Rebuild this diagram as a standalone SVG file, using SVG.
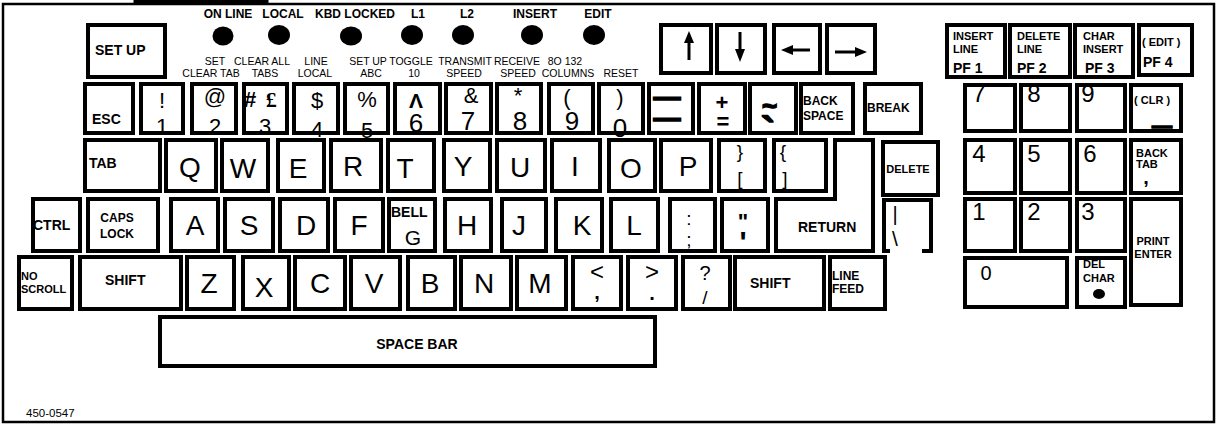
<svg xmlns="http://www.w3.org/2000/svg" width="1217" height="424" viewBox="0 0 1217 424">
<style>
.k{fill:#fff;stroke:#000;stroke-width:4}
.fr{fill:none;stroke:#000;stroke-width:2.5}
text{font-family:"Liberation Sans",Arial,Helvetica,sans-serif;fill:#000}
.c{text-anchor:middle}
.led{font-weight:bold;font-size:12px;text-anchor:middle}
.fn{font-size:10.5px;text-anchor:middle}
.L{font-size:28px;text-anchor:middle}
.k14{font-weight:bold;font-size:14px}
.k12{font-weight:bold;font-size:12px}
.k11{font-weight:bold;font-size:11px}
.d{font-size:22px;text-anchor:middle}
.d2{font-size:26px;text-anchor:middle}
.sy{font-size:22px;text-anchor:middle}
.np{font-size:24px;text-anchor:middle}
.ar{stroke:#000;stroke-width:3;fill:none}
.ah{fill:#000}
.th{stroke:#000;stroke-width:1.5}
</style>

<g id="frame">
<rect class="fr" x="3" y="4" width="1211" height="418"/>
<path d="M135,5 V1.5 H267 V5" fill="none" stroke="#000" stroke-width="3"/>
<text x="26" y="417" font-size="11.5">450-0547</text>
</g>

<g id="indicators">
<g id="led-online"><text class="led" x="228" y="18">ON LINE</text><ellipse cx="223" cy="36" rx="10.5" ry="9.5"/></g>
<g id="led-local"><text class="led" x="283" y="18">LOCAL</text><ellipse cx="279" cy="35" rx="11" ry="10"/></g>
<g id="led-kbdlocked"><text class="led" x="355" y="18">KBD LOCKED</text><ellipse cx="351" cy="36" rx="11" ry="9.5"/></g>
<g id="led-l1"><text class="led" x="418" y="18">L1</text><ellipse cx="412" cy="35" rx="11" ry="10"/></g>
<g id="led-l2"><text class="led" x="467" y="18">L2</text><ellipse cx="463" cy="35" rx="11" ry="10"/></g>
<g id="led-insert"><text class="led" x="535" y="18">INSERT</text><ellipse cx="532" cy="35" rx="11" ry="10"/></g>
<g id="led-edit"><text class="led" x="598" y="18">EDIT</text><ellipse cx="594" cy="35" rx="11" ry="10"/></g>
</g>

<g id="setup-labels">
<text class="fn" x="215" y="65">SET</text>
<text class="fn" x="211" y="77">CLEAR TAB</text>
<text class="fn" x="262" y="65">CLEAR ALL</text>
<text class="fn" x="265" y="77">TABS</text>
<text class="fn" x="316" y="65">LINE</text>
<text class="fn" x="315" y="77">LOCAL</text>
<text class="fn" x="368" y="65">SET UP</text>
<text class="fn" x="371" y="77">ABC</text>
<text class="fn" x="411" y="65">TOGGLE</text>
<text class="fn" x="414" y="77">10</text>
<text class="fn" x="465" y="65">TRANSMIT</text>
<text class="fn" x="464" y="77">SPEED</text>
<text class="fn" x="517" y="65">RECEIVE</text>
<text class="fn" x="518" y="77">SPEED</text>
<text class="fn" x="565" y="65">8O 132</text>
<text class="fn" x="568" y="77">COLUMNS</text>
<text class="fn" x="621" y="77">RESET</text>
</g>

<g id="key-setup"><rect class="k" x="88" y="25" width="77" height="52"/><text class="k14" x="95" y="55">SET UP</text></g>

<g id="key-up"><rect class="k" x="661" y="25" width="50" height="48"/><line class="ar" x1="689" y1="41" x2="689" y2="60"/><polygon class="ah" points="684,43 689,31 694,43"/></g>
<g id="key-down"><rect class="k" x="717" y="25" width="48" height="48"/><line class="ar" x1="740" y1="32" x2="740" y2="51"/><polygon class="ah" points="735,49 740,62 745,49"/></g>
<g id="key-left"><rect class="k" x="774" y="25" width="46" height="48"/><line class="ar" x1="791" y1="50" x2="810" y2="50"/><polygon class="ah" points="793,45 781,50 793,55"/></g>
<g id="key-right"><rect class="k" x="827" y="25" width="48" height="48"/><line class="ar" x1="835" y1="52" x2="857" y2="52"/><polygon class="ah" points="855,47 867,52 855,57"/></g>

<g id="key-pf1"><rect class="k" x="947" y="25" width="58" height="52"/><text class="k11" x="953" y="40">INSERT</text><text class="k11" x="953" y="53">LINE</text><text class="k14" x="953" y="73">PF 1</text></g>
<g id="key-pf2"><rect class="k" x="1010" y="25" width="60" height="52"/><text class="k11" x="1017" y="40">DELETE</text><text class="k11" x="1017" y="53">LINE</text><text class="k14" x="1017" y="73">PF 2</text></g>
<g id="key-pf3"><rect class="k" x="1075" y="25" width="58" height="52"/><text class="k11" x="1083" y="40">CHAR</text><text class="k11" x="1083" y="53">INSERT</text><text class="k14" x="1085" y="73">PF 3</text></g>
<g id="key-pf4"><rect class="k" x="1139" y="25" width="53" height="50"/><text class="k11" x="1142" y="46">( EDIT )</text><text class="k14" x="1143" y="67">PF 4</text></g>

<g id="key-esc"><rect class="k" x="85" y="84" width="48" height="49"/><text class="k14" x="92" y="124">ESC</text></g>
<g id="key-1"><rect class="k" x="141" y="84" width="42" height="49"/><text class="sy" x="162" y="108">!</text><text class="d" x="162" y="134">1</text></g>
<g id="key-2"><rect class="k" x="192" y="84" width="44" height="49"/><text class="sy" x="215" y="104">@</text><text class="d" x="215" y="134">2</text></g>
<g id="key-3"><rect class="k" x="244" y="84" width="43" height="49"/><text x="244" y="107" font-size="22" font-weight="bold" word-spacing="4">#<tspan font-family="'Liberation Serif',serif"> £</tspan></text><text class="d" x="265" y="134">3</text></g>
<g id="key-4"><rect class="k" x="294" y="84" width="44" height="49"/><text class="sy" x="317" y="108">$</text><text class="d" x="317" y="137">4</text></g>
<g id="key-5"><rect class="k" x="345" y="84" width="43" height="49"/><text class="sy" x="367" y="107">%</text><text class="d" x="367" y="138">5</text></g>
<g id="key-6"><rect class="k" x="395" y="84" width="45" height="49"/><text class="c" x="416" y="108" font-size="21" font-weight="bold">Λ</text><text class="d2" x="416" y="132">6</text></g>
<g id="key-7"><rect class="k" x="446" y="84" width="45" height="49"/><text class="sy" x="471" y="103">&amp;</text><text class="d2" x="468" y="130">7</text></g>
<g id="key-8"><rect class="k" x="497" y="84" width="44" height="49"/><text class="sy" x="518" y="103">*</text><text class="d2" x="520" y="130">8</text></g>
<g id="key-9"><rect class="k" x="549" y="84" width="44" height="49"/><text class="sy" x="567" y="105">(</text><text class="d2" x="572" y="130">9</text></g>
<g id="key-0"><rect class="k" x="599" y="84" width="44" height="49"/><text class="sy" x="620" y="105">)</text><text class="d2" x="620" y="137">0</text></g>
<g id="key-minus"><rect class="k" x="649" y="84" width="44" height="49"/><text class="c th" x="667" y="106" font-size="27" font-weight="bold">—</text><text class="c th" x="667" y="127" font-size="27" font-weight="bold">—</text></g>
<g id="key-equals"><rect class="k" x="699" y="84" width="46" height="49"/><text class="c" x="722" y="110" font-size="22" font-weight="bold">+</text><text class="c" x="723" y="129" font-size="22" font-weight="bold">=</text></g>
<g id="key-tilde"><rect class="k" x="750" y="84" width="46" height="49"/><text class="th" x="762" y="115" font-size="26" font-weight="bold">~<tspan x="761" y="147" font-size="42">`</tspan></text></g>
<g id="key-backspace"><rect class="k" x="801" y="84" width="52" height="49"/><text class="k12" x="803" y="105">BACK</text><text class="k12" x="803" y="120">SPACE</text></g>
<g id="key-break"><rect class="k" x="865" y="84" width="56" height="49"/><text class="k12" x="867" y="112">BREAK</text></g>

<g id="key-np7"><rect class="k" x="965" y="85" width="50" height="46"/><text class="np" x="979" y="102">7</text></g>
<g id="key-np8"><rect class="k" x="1021" y="85" width="49" height="46"/><text class="np" x="1034" y="102">8</text></g>
<g id="key-np9"><rect class="k" x="1077" y="85" width="48" height="46"/><text class="np" x="1088" y="102">9</text></g>
<g id="key-clr"><rect class="k" x="1131" y="85" width="50" height="46"/><text class="k11" x="1134" y="104">( CLR )</text><text class="c th" x="1162" y="132" font-size="20" font-weight="bold">—</text></g>

<g id="key-tab"><rect class="k" x="85" y="140" width="75" height="51"/><text class="k14" x="89" y="168">TAB</text></g>
<g id="key-q"><rect class="k" x="166" y="140" width="50" height="51"/><text class="L" x="190" y="177">Q</text></g>
<g id="key-w"><rect class="k" x="222" y="140" width="46" height="51"/><text class="L" x="243" y="178">W</text></g>
<g id="key-e"><rect class="k" x="278" y="140" width="46" height="51"/><text class="L" x="298" y="178">E</text></g>
<g id="key-r"><rect class="k" x="331" y="140" width="50" height="51"/><text class="L" x="353" y="176">R</text></g>
<g id="key-t"><rect class="k" x="388" y="140" width="46" height="51"/><text class="L" x="405" y="178">T</text></g>
<g id="key-y"><rect class="k" x="444" y="140" width="46" height="51"/><text class="L" x="463" y="176">Y</text></g>
<g id="key-u"><rect class="k" x="497" y="140" width="48" height="51"/><text class="L" x="520" y="177">U</text></g>
<g id="key-i"><rect class="k" x="552" y="140" width="48" height="51"/><text class="L" x="575" y="176">I</text></g>
<g id="key-o"><rect class="k" x="609" y="140" width="46" height="51"/><text class="L" x="631" y="178">O</text></g>
<g id="key-p"><rect class="k" x="661" y="140" width="50" height="51"/><text class="L" x="688" y="176">P</text></g>
<g id="key-rbrace"><rect class="k" x="719" y="140" width="46" height="51"/><text class="c" x="740" y="158" font-size="19">}</text><text class="c" x="740" y="185" font-size="19">[</text></g>
<g id="key-lbrace"><rect class="k" x="774" y="140" width="52" height="51"/><text class="c" x="783" y="158" font-size="19">{</text><text class="c" x="785" y="185" font-size="19">]</text></g>
<g id="key-return"><path class="k" d="M835,140 H873 V251 H776 V199 H835 Z"/><text class="k14" x="798" y="232">RETURN</text></g>
<g id="key-delete"><rect class="k" x="883" y="142" width="55" height="53"/><text class="k11" x="908" y="173" text-anchor="middle">DELETE</text></g>

<g id="key-np4"><rect class="k" x="965" y="140" width="50" height="53"/><text class="np" x="979" y="162">4</text></g>
<g id="key-np5"><rect class="k" x="1021" y="140" width="49" height="53"/><text class="np" x="1034" y="162">5</text></g>
<g id="key-np6"><rect class="k" x="1077" y="140" width="48" height="53"/><text class="np" x="1090" y="162">6</text></g>
<g id="key-backtab"><rect class="k" x="1131" y="140" width="50" height="53"/><text class="k11" x="1136" y="157">BACK</text><text class="k11" x="1136" y="168">TAB</text><text class="c" x="1146" y="184" font-size="20" font-weight="bold">,</text></g>

<g id="key-ctrl"><rect class="k" x="33" y="199" width="47" height="52"/><text class="k14" x="33" y="230">CTRL</text></g>
<g id="key-capslock"><rect class="k" x="88" y="199" width="70" height="52"/><text class="k12" x="117" y="222" text-anchor="middle">CAPS</text><text class="k12" x="117" y="238" text-anchor="middle">LOCK</text></g>
<g id="key-a"><rect class="k" x="171" y="199" width="47" height="52"/><text class="L" x="195" y="235">A</text></g>
<g id="key-s"><rect class="k" x="225" y="199" width="48" height="52"/><text class="L" x="249" y="235">S</text></g>
<g id="key-d"><rect class="k" x="280" y="199" width="48" height="52"/><text class="L" x="306" y="235">D</text></g>
<g id="key-f"><rect class="k" x="335" y="199" width="48" height="52"/><text class="L" x="359" y="235">F</text></g>
<g id="key-g"><rect class="k" x="389" y="199" width="46" height="52"/><text class="k14" x="391" y="217">BELL</text><text class="c" x="413" y="245" font-size="21">G</text></g>
<g id="key-h"><rect class="k" x="445" y="199" width="46" height="52"/><text class="L" x="467" y="235">H</text></g>
<g id="key-j"><rect class="k" x="502" y="199" width="44" height="52"/><text class="L" x="519" y="235">J</text></g>
<g id="key-k"><rect class="k" x="556" y="199" width="46" height="52"/><text class="L" x="582" y="235">K</text></g>
<g id="key-l"><rect class="k" x="611" y="199" width="47" height="52"/><text class="L" x="634" y="235">L</text></g>
<g id="key-semicolon"><rect class="k" x="670" y="199" width="45" height="52"/><text class="c" x="689" y="225" font-size="19">:</text><text class="c" x="689" y="246" font-size="19">;</text></g>
<g id="key-quote"><rect class="k" x="722" y="199" width="46" height="52"/><text class="c" x="743" y="229" font-size="22" font-weight="bold">"</text><text class="c" x="743" y="252" font-size="30" font-weight="bold">'</text></g>
<g id="key-backslash"><path d="M884,253 V200 H931 V253 M882,251 H890 M922,251 H933" fill="none" stroke="#000" stroke-width="4"/><text class="c" x="895" y="221" font-size="20">|</text><text class="c" x="895" y="246" font-size="21">\</text></g>

<g id="key-np1"><rect class="k" x="965" y="199" width="50" height="52"/><text class="np" x="979" y="220">1</text></g>
<g id="key-np2"><rect class="k" x="1021" y="199" width="49" height="52"/><text class="np" x="1034" y="220">2</text></g>
<g id="key-np3"><rect class="k" x="1077" y="199" width="48" height="52"/><text class="np" x="1088" y="220">3</text></g>
<g id="key-enter"><rect class="k" x="1131" y="199" width="50" height="106"/><text class="k11" x="1153" y="245" text-anchor="middle">PRINT</text><text class="k11" x="1153" y="258" text-anchor="middle">ENTER</text></g>

<g id="key-noscroll"><rect class="k" x="19" y="257" width="53" height="52"/><text class="k11" x="21" y="280">NO</text><text class="k11" x="21" y="293">SCROLL</text></g>
<g id="key-lshift"><rect class="k" x="80" y="257" width="101" height="52"/><text class="k14" x="105" y="285">SHIFT</text></g>
<g id="key-z"><rect class="k" x="187" y="257" width="47" height="52"/><text class="L" x="209" y="293">Z</text></g>
<g id="key-x"><rect class="k" x="243" y="257" width="46" height="52"/><text class="L" x="264" y="297">X</text></g>
<g id="key-c"><rect class="k" x="295" y="257" width="50" height="52"/><text class="L" x="320" y="293">C</text></g>
<g id="key-v"><rect class="k" x="351" y="257" width="49" height="52"/><text class="L" x="374" y="293">V</text></g>
<g id="key-b"><rect class="k" x="408" y="257" width="47" height="52"/><text class="L" x="430" y="293">B</text></g>
<g id="key-n"><rect class="k" x="461" y="257" width="50" height="52"/><text class="L" x="484" y="293">N</text></g>
<g id="key-m"><rect class="k" x="517" y="257" width="49" height="52"/><text class="L" x="540" y="293">M</text></g>
<g id="key-comma"><rect class="k" x="573" y="257" width="48" height="52"/><text class="c" x="597" y="280" font-size="24">&lt;</text><text class="c" x="597" y="299" font-size="20" font-weight="bold">,</text></g>
<g id="key-period"><rect class="k" x="628" y="257" width="48" height="52"/><text class="c" x="652" y="280" font-size="24">&gt;</text><text class="c" x="652" y="300" font-size="20" font-weight="bold">.</text></g>
<g id="key-slash"><rect class="k" x="683" y="257" width="47" height="52"/><text class="c" x="705" y="280" font-size="20">?</text><text class="c" x="705" y="304" font-size="19">/</text></g>
<g id="key-rshift"><rect class="k" x="735" y="257" width="89" height="52"/><text class="k14" x="750" y="288">SHIFT</text></g>
<g id="key-linefeed"><rect class="k" x="830" y="257" width="55" height="52"/><text class="k12" x="832" y="280">LINE</text><text class="k12" x="832" y="293">FEED</text></g>

<g id="key-np0"><rect class="k" x="965" y="258" width="102" height="49"/><text class="c" x="986" y="280" font-size="20">0</text></g>
<g id="key-delchar"><rect class="k" x="1077" y="258" width="48" height="49"/><text class="k11" x="1083" y="268">DEL</text><text class="k11" x="1083" y="282">CHAR</text><ellipse cx="1099" cy="294" rx="6" ry="5"/></g>

<g id="key-space"><rect class="k" x="160" y="317" width="495" height="49"/><text class="k14" x="417" y="349" text-anchor="middle">SPACE BAR</text></g>
</svg>
